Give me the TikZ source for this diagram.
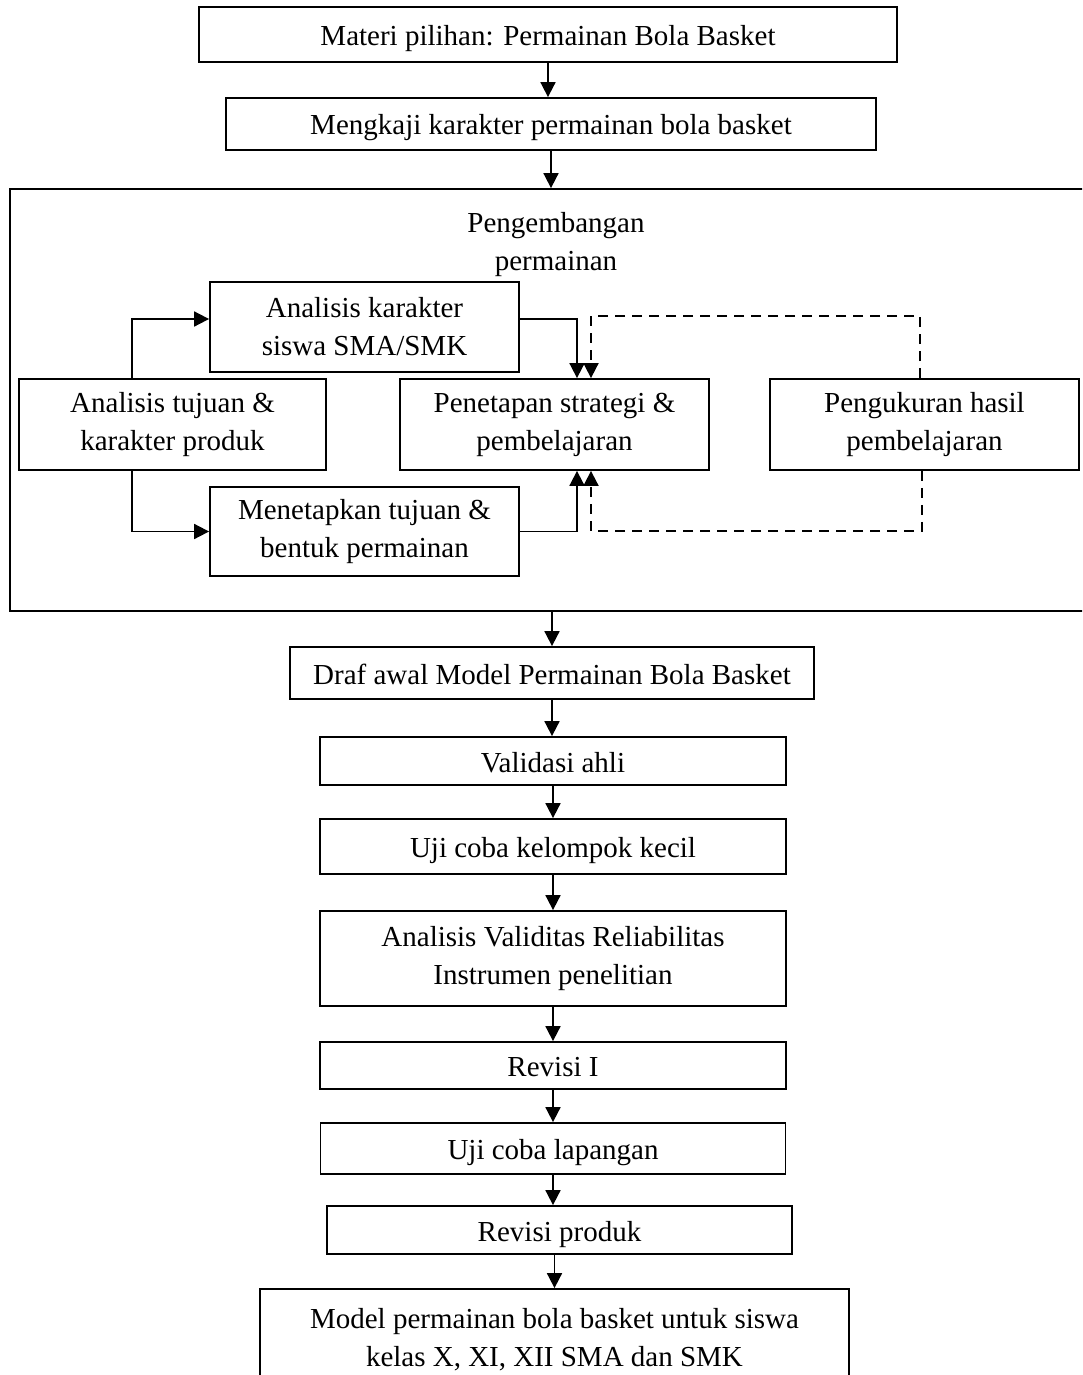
\documentclass[tikz,border=0pt]{standalone}
\usepackage{fontspec}
\setmainfont{Liberation Serif}
\usetikzlibrary{arrows.meta,calc}
\begin{document}
\begin{tikzpicture}[x=1pt,y=-1pt,
  box/.style={draw, line width=1.8pt, rectangle, inner sep=0pt, align=center,
              font=\fontsize{29}{38}\selectfont},
  txt/.style={inner sep=0pt, align=center, font=\fontsize{29}{38}\selectfont},
  one/.style={text height=22pt, text depth=0pt},
  two/.style={yshift=0pt},
  conn/.style={line width=1.8pt, -{Triangle[width=15pt,length=15pt]}},
  dconn/.style={conn, dash pattern=on 10pt off 7pt},
]
\useasboundingbox (0,0) rectangle (1082,1375);
\clip (0,0) rectangle (1082,1375);

% top boxes
\node[box,one,minimum width=698pt,minimum height=55pt] (b1) at (548,34.5) {Materi pilihan: Permainan Bola Basket};
\node[box,one,minimum width=650pt,minimum height=52pt] (b2) at (551,124) {Mengkaji karakter permainan bola basket};

% development frame
\node[box,minimum width=1090pt,minimum height=422pt] (dev) at (555,400) {};
\node[txt] (devt) at (556,245) {Pengembangan\\permainan};

\node[box,minimum width=309pt,minimum height=90pt] (ak) at (364.5,327) {Analisis karakter\\siswa SMA/SMK};
\node[box,minimum width=307pt,minimum height=91pt] (at) at (172.5,424.5) {Analisis tujuan \&\\karakter produk};
\node[box,minimum width=309pt,minimum height=91pt] (ps) at (554.5,424.5) {Penetapan strategi \&\\pembelajaran};
\node[box,minimum width=309pt,minimum height=91pt] (pk) at (924.5,424.5) {Pengukuran hasil\\pembelajaran};
\node[box,minimum width=309pt,minimum height=89pt] (mt) at (364.5,531.5) {Menetapkan tujuan \&\\bentuk permainan};

% lower chain
\node[box,one,minimum width=524pt,minimum height=52pt] (draf) at (552,673) {Draf awal Model Permainan Bola Basket};
\node[box,one,minimum width=466pt,minimum height=48pt] (val) at (553,761) {Validasi ahli};
\node[box,one,minimum width=466pt,minimum height=55pt] (ujk) at (553,846.5) {Uji coba kelompok kecil};
\node[box,minimum width=466pt,minimum height=95pt] (avr) at (553,958.5) {Analisis Validitas Reliabilitas\\Instrumen penelitian};
\node[box,one,minimum width=466pt,minimum height=47pt] (rv1) at (553,1065.5) {Revisi I};
\node[box,one,minimum width=465pt,minimum height=51pt] (ujl) at (553,1148.5) {Uji coba lapangan};
\node[box,one,minimum width=465pt,minimum height=48pt] (rvp) at (559.5,1230) {Revisi produk};
\node[box,minimum width=589pt,minimum height=101pt] (fin) at (554.5,1339.5) {Model permainan bola basket untuk siswa\\kelas X, XI, XII SMA dan SMK};

% connectors: top
\draw[conn] (b1.south) -- (b1.south |- b2.north);
\draw[conn] (b2.south) -- (b2.south |- dev.north);

% connectors inside frame
\draw[conn] ($(at.north west)+(114,0)$) |- ($(ak.west)+(0,-8)$);
\draw[conn] ($(at.south west)+(114,0)$) |- (mt.west);
\draw[conn] ($(ak.east)+(0,-8)$) -| ($(ps.north)+(22.5,0)$);
\draw[conn] (mt.east) -| ($(ps.south)+(22.5,0)$);
\draw[dconn] ($(pk.north)+(-4.5,0)$) -- ++(0,-62) -| ($(ps.north)+(36.5,0)$);
\draw[dconn] ($(pk.south)+(-2.5,0)$) -- ++(0,60) -| ($(ps.south)+(36.5,0)$);

% connectors: lower chain
\draw[conn] (dev.south -| draf.north) -- (draf.north);
\draw[conn] (draf.south) -- (draf.south |- val.north);
\draw[conn] (val.south) -- (val.south |- ujk.north);
\draw[conn] (ujk.south) -- (ujk.south |- avr.north);
\draw[conn] (avr.south) -- (avr.south |- rv1.north);
\draw[conn] (rv1.south) -- (rv1.south |- ujl.north);
\draw[conn] (ujl.south) -- (ujl.south |- rvp.north);
\draw[conn] (rvp.south -| fin.north) -- (fin.north);
\end{tikzpicture}
\end{document}
